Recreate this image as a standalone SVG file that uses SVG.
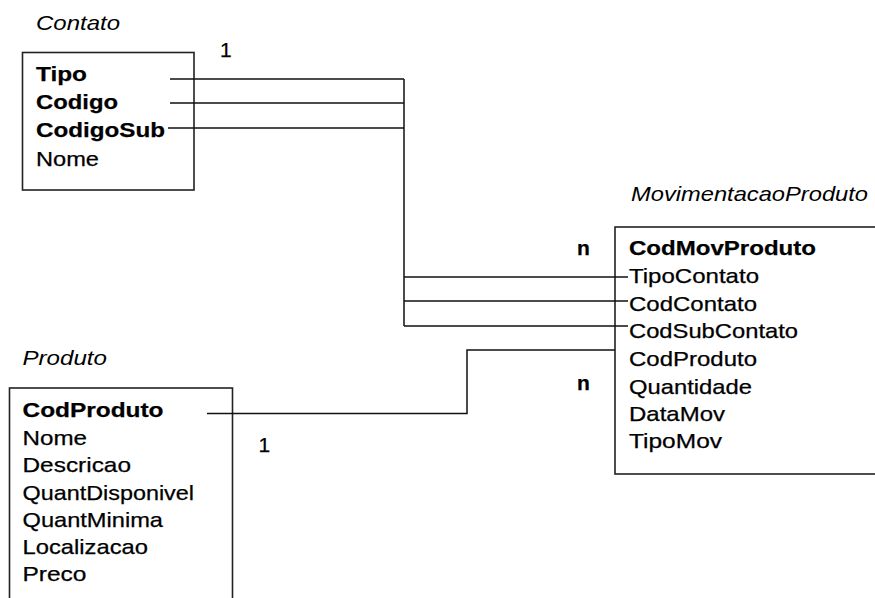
<svg xmlns="http://www.w3.org/2000/svg" width="875" height="598" viewBox="0 0 875 598">
<style>
text{font-family:"Liberation Sans",Arial,sans-serif;font-size:21px;fill:#000;stroke:#000;stroke-width:0.25}
.t{font-style:italic;stroke-width:0}
.b{font-weight:bold}
.box{fill:#fff;stroke:#222;stroke-width:1.6}
.ln{fill:none;stroke:#111;stroke-width:1.5}
</style>
<rect width="875" height="598" fill="#fff"/>
<g id="contato">
<text class="t" x="36" y="30" textLength="84" lengthAdjust="spacingAndGlyphs">Contato</text>
<rect class="box" x="22.5" y="52.5" width="171.5" height="137.5"/>
<text class="b" x="36" y="81" textLength="51" lengthAdjust="spacingAndGlyphs">Tipo</text>
<text class="b" x="36" y="109" textLength="82" lengthAdjust="spacingAndGlyphs">Codigo</text>
<text class="b" x="36" y="137" textLength="129" lengthAdjust="spacingAndGlyphs">CodigoSub</text>
<text x="36" y="165.5" textLength="63" lengthAdjust="spacingAndGlyphs">Nome</text>
</g>
<g id="movimentacaoProduto">
<text class="t" x="631" y="201" textLength="237" lengthAdjust="spacingAndGlyphs">MovimentacaoProduto</text>
<rect class="box" x="615" y="227" width="275" height="247"/>
<text class="b" x="629" y="254.5" textLength="187" lengthAdjust="spacingAndGlyphs">CodMovProduto</text>
<text x="629" y="283" textLength="130" lengthAdjust="spacingAndGlyphs">TipoContato</text>
<text x="629" y="311" textLength="128" lengthAdjust="spacingAndGlyphs">CodContato</text>
<text x="629" y="338" textLength="169" lengthAdjust="spacingAndGlyphs">CodSubContato</text>
<text x="629" y="366" textLength="128" lengthAdjust="spacingAndGlyphs">CodProduto</text>
<text x="629" y="393.5" textLength="123" lengthAdjust="spacingAndGlyphs">Quantidade</text>
<text x="629" y="421" textLength="96" lengthAdjust="spacingAndGlyphs">DataMov</text>
<text x="629" y="448" textLength="93" lengthAdjust="spacingAndGlyphs">TipoMov</text>
</g>
<g id="produto">
<text class="t" x="22.5" y="364.5" textLength="84.5" lengthAdjust="spacingAndGlyphs">Produto</text>
<rect class="box" x="9.5" y="388" width="223" height="230"/>
<text class="b" x="22.5" y="417" textLength="141" lengthAdjust="spacingAndGlyphs">CodProduto</text>
<text x="22.5" y="444.5" textLength="64.5" lengthAdjust="spacingAndGlyphs">Nome</text>
<text x="22.5" y="472" textLength="108.5" lengthAdjust="spacingAndGlyphs">Descricao</text>
<text x="22.5" y="499.5" textLength="171.5" lengthAdjust="spacingAndGlyphs">QuantDisponivel</text>
<text x="22.5" y="526.5" textLength="140.5" lengthAdjust="spacingAndGlyphs">QuantMinima</text>
<text x="22.5" y="553.5" textLength="125.5" lengthAdjust="spacingAndGlyphs">Localizacao</text>
<text x="22.5" y="581" textLength="64" lengthAdjust="spacingAndGlyphs">Preco</text>
</g>
<g id="connectors">
<path class="ln" d="M170 79H404M170 103H404M168 128H404M404 79V326M404 277H628M404 301H628M404 326H628"/>
<path class="ln" d="M207 413.5H467V350H615"/>
<text x="220" y="57">1</text>
<text class="b" x="577" y="255">n</text>
<text class="b" x="577" y="390">n</text>
<text x="258.5" y="451.5">1</text>
</g>
</svg>
